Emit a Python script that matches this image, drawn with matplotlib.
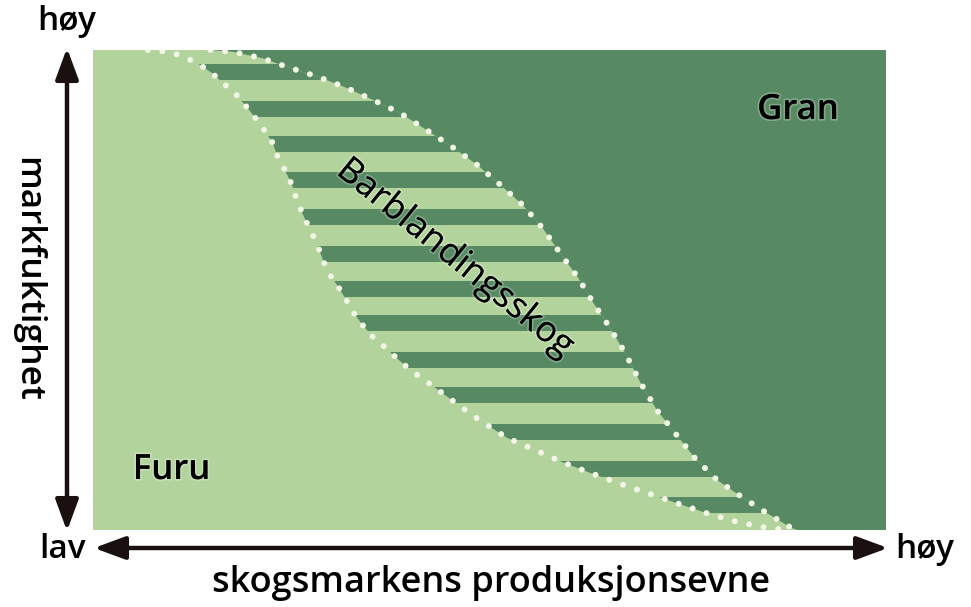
import matplotlib
matplotlib.use("Agg")
import matplotlib.pyplot as plt
from matplotlib.patches import Polygon, FancyArrowPatch
import matplotlib.patheffects as pe
import numpy as np

# ---- data (productivity 0-100 on x, soil moisture 0-100 on y) ----
left_x = [6.9, 9.7, 11.6, 13.5, 15.0, 16.4, 17.9, 19.2, 20.4, 21.4, 22.6, 23.3, 24.2,
          25.1, 25.7, 26.5, 27.4, 28.2, 28.9, 29.6, 30.8, 31.8, 32.8, 34.0, 35.3, 36.8,
          38.3, 39.7, 41.2, 42.7, 44.4, 48.2, 52.2, 55.7, 59.1, 62.7, 66.2, 69.9, 73.6,
          77.4, 81.2, 85.1, 87.9]
left_y = [100, 99.6, 98.5, 96.9, 95.2, 93.1, 91.0, 88.5, 86.0, 83.8, 80.8, 77.7, 75.0,
          71.9, 68.8, 65.6, 62.5, 59.8, 56.7, 53.8, 51.0, 48.3, 45.4, 42.7, 40.2, 38.1,
          35.8, 33.8, 31.9, 30.2, 28.1, 23.5, 19.2, 16.7, 14.2, 11.9, 9.8, 7.7, 5.6,
          3.5, 1.7, 0.4, 0]
right_x = [14.8, 17.7, 21.3, 24.8, 28.4, 32.0, 35.3, 38.7, 42.1, 45.3, 48.5, 51.1, 54.2,
           56.7, 58.9, 61.2, 63.1, 65.2, 67.1, 69.0, 71.1, 73.4, 75.9, 78.7, 81.8, 85.0,
           88.1, 88.9]
right_y = [100, 99.6, 98.3, 96.3, 94.4, 92.1, 89.6, 86.9, 83.3, 79.8, 76.0, 72.3, 67.7,
           62.9, 57.7, 52.5, 47.3, 42.1, 36.9, 30.8, 25.0, 20.2, 15.0, 10.4, 6.9, 3.5,
           0.4, 0]
stripe_centers = [95.4, 87.7, 80.4, 72.9, 65.2, 57.5, 50.2, 43.1, 35.4, 28.1, 20.4, 12.7, 5.2]

y_label = "markfuktighet"
x_label = "skogsmarkens produksjonsevne"
low_label = "lav"
high_label = "høy"
zones = ["Furu", "Barblandingsskog", "Gran"]

LIGHT = "#b3d39c"
DARK = "#578a63"
DOT = "#f2f6e6"
INK = "#1b1010"
FONT = ["Open Sans", "DejaVu Sans"]

W, H = 971, 607
fig = plt.figure(figsize=(W / 100, H / 100), dpi=100)
fig.patch.set_facecolor("white")
ax = fig.add_axes([93 / W, 77 / H, 793 / W, 480 / H])
ax.set_xlim(0, 100)
ax.set_ylim(0, 100)
ax.axis("off")

# background (Furu)
ax.fill_between([0, 100], 0, 100, color=LIGHT, lw=0, zorder=1)

# band polygon (mixed forest)
band_pts = list(zip(left_x, left_y)) + list(zip(right_x[::-1], right_y[::-1]))
band = Polygon(band_pts, closed=True, facecolor="none", edgecolor="none")
ax.add_patch(band)
for c in stripe_centers:
    s = ax.axhspan(c - 1.6, c + 1.6, color=DARK, lw=0, zorder=2)
    s.set_clip_path(band)

# spruce region
gran_pts = list(zip(right_x, right_y)) + [(100, 0), (100, 100)]
ax.add_patch(Polygon(gran_pts, closed=True, facecolor=DARK, edgecolor="none", zorder=3))

# dotted borders
for xs, ys in [(left_x, left_y), (right_x, right_y)]:
    ax.plot(xs, ys, color=DOT, lw=4.3, linestyle=(0, (0.01, 2.45)),
            dash_capstyle="round", zorder=4)

# zone labels
halo = [pe.withStroke(linewidth=2.5, foreground=(1, 1, 1, 0.25))]
ax.text(9.9, 12.5, zones[0], fontsize=25, fontweight="semibold", family=FONT,
        color="black", ha="center", va="center", zorder=5, path_effects=halo)
ax.text(45.6, 56.6, zones[1], fontsize=25.5, fontweight="medium", family=FONT,
        color="black", ha="center", va="center", rotation=-39, zorder=5,
        rotation_mode="anchor", path_effects=halo)
ax.text(88.9, 87.5, zones[2], fontsize=25, fontweight="semibold", family=FONT,
        color="black", ha="center", va="center", zorder=5, path_effects=halo)

# axis arrows
def fx(px):
    return px / W

def fy(py):
    return 1 - py / H

style = "<|-|>,head_length=1.9,head_width=0.7"
fig.add_artist(FancyArrowPatch((fx(67), fy(531)), (fx(67), fy(48)), transform=fig.transFigure,
                               arrowstyle=style, mutation_scale=10, lw=3.2, color=INK,
                               shrinkA=0, shrinkB=0))
fig.add_artist(FancyArrowPatch((fx(94), fy(548)), (fx(888), fy(548)), transform=fig.transFigure,
                               arrowstyle=style, mutation_scale=10, lw=3.2, color=INK,
                               shrinkA=0, shrinkB=0))

kw = dict(fontsize=24, family=FONT, fontweight="semibold", ha="center", va="center")
fig.text(fx(67), fy(22), high_label, **kw)
fig.text(fx(63), fy(550), low_label, **kw)
fig.text(fx(925), fy(550), high_label, **kw)
fig.text(fx(27), fy(279), y_label, rotation=-90, **{**kw, "fontsize": 25.5})
fig.text(fx(491), fy(583), x_label, **{**kw, "fontsize": 26})

fig.savefig("out.png", dpi=100, facecolor="white")
